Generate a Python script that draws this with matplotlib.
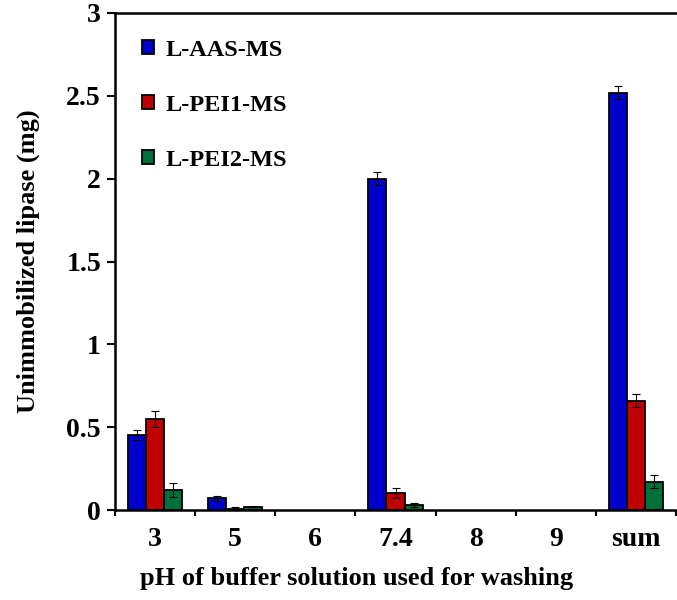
import matplotlib.pyplot as plt
import matplotlib
import numpy as np

matplotlib.rcParams.update(
    {
        'font.family': 'Liberation Serif',
        'font.weight': 'bold',
        'axes.labelweight': 'bold',
        'font.size': 20
    }
)

categories = ['3', '5', '6', '7.4', '8', '9', 'sum']
aas_vals = [0.45, 0.07, 0, 2.00, 0, 0, 2.52]
aas_err = [0.03, 0.015, 0, 0.04, 0, 0, 0.04]
pei1_vals = [0.55, 0.005, 0, 0.10, 0, 0, 0.66]
pei1_err = [0.05, 0.015, 0, 0.03, 0, 0, 0.04]
pei2_vals = [0.12, 0.02, 0, 0.03, 0, 0, 0.17]
pei2_err = [0.04, 0.004, 0, 0.01, 0, 0, 0.04]

series = [
    ('L-AAS-MS', aas_vals, aas_err, '#0000CC'),
    ('L-PEI1-MS', pei1_vals, pei1_err, '#C00000'),
    ('L-PEI2-MS', pei2_vals, pei2_err, '#00703A'),
]

fig = plt.figure(figsize=(6.77, 6.0), dpi=100)
ax = fig.add_axes([115 / 677, 90 / 600, 561 / 677, 497 / 600])

x = np.arange(len(categories))
w = 0.225
for i, (name, vals, errs, col) in enumerate(series):
    vals = np.array(vals)
    errs = np.array(errs)
    keep = vals > 0  # no bar drawn where nothing was washed out
    pos = x[keep] + (i - 1) * w
    ax.bar(pos, vals[keep], w, color=col, edgecolor='black', linewidth=1.3,
           label=name, zorder=2)
    ax.errorbar(pos, vals[keep], yerr=errs[keep], fmt='none', ecolor='black',
                elinewidth=0.8, capsize=3, capthick=0.8, zorder=3)

ax.set_xlim(-0.5, len(categories) - 0.5)
ax.set_ylim(0, 3)
ax.set_yticks([0, 0.5, 1, 1.5, 2, 2.5, 3])
ax.set_yticklabels(['0', '0.5', '1', '1.5', '2', '2.5', '3'])
ax.set_xticks(x)
ax.set_xticklabels(categories)
ax.set_xticks(np.arange(len(categories) + 1) - 0.5, minor=True)
ax.tick_params(axis='x', which='major', length=0, pad=12)
ax.tick_params(axis='x', which='minor', length=4, width=1.5, direction='out')
ax.tick_params(axis='y', length=6, width=1.5, direction='out', pad=4)

for s in ['left', 'bottom', 'top']:
    ax.spines[s].set_linewidth(1.8)
ax.spines['right'].set_visible(False)

ax.set_xlabel('pH of buffer solution used for washing', fontsize=19, labelpad=12)
ax.xaxis.set_label_coords(0.43, -0.115)
ax.set_ylabel('Unimmobilized lipase (mg)', fontsize=19, labelpad=19)

ax.legend(loc='upper left', frameon=False, fontsize=17.5, handlelength=0.5,
          handleheight=0.5, handletextpad=0.45, labelspacing=1.4,
          bbox_to_anchor=(0.005, 0.995), borderaxespad=0.6)

plt.savefig('out.png', dpi=100)
